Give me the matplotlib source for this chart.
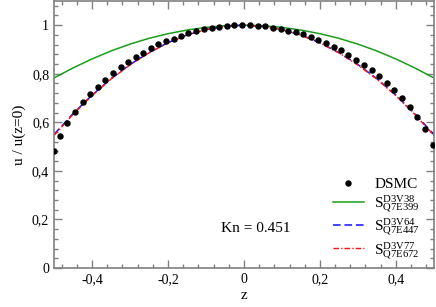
import matplotlib
matplotlib.use("Agg")
import matplotlib.pyplot as plt
from matplotlib.ticker import MultipleLocator, FuncFormatter

plt.rcParams['font.family'] = ['Liberation Serif', 'DejaVu Serif']
plt.rcParams['mathtext.fontset'] = 'custom'
plt.rcParams['mathtext.rm'] = 'Liberation Serif'
plt.rcParams['mathtext.it'] = 'Liberation Serif:italic'

# DSMC points
z_dsmc = [-0.5, -0.484, -0.466, -0.446, -0.425, -0.405, -0.385, -0.365, -0.346,
          -0.325, -0.305, -0.285, -0.265, -0.246, -0.226, -0.205, -0.185, -0.166,
          -0.146, -0.126, -0.105, -0.085, -0.065, -0.045, -0.026, -0.006,
          0.016, 0.036, 0.056, 0.076, 0.097, 0.116, 0.136, 0.156, 0.176, 0.196,
          0.216, 0.236, 0.255, 0.275, 0.296, 0.316, 0.336, 0.355, 0.376, 0.395,
          0.416, 0.436, 0.455, 0.476, 0.497]
u_dsmc = [0.481, 0.542, 0.598, 0.642, 0.682, 0.717, 0.746, 0.776, 0.802,
          0.826, 0.848, 0.868, 0.886, 0.905, 0.921, 0.934, 0.945, 0.956,
          0.967, 0.975, 0.984, 0.988, 0.993, 0.996, 0.999, 1.0,
          0.999, 0.998, 0.995, 0.989, 0.984, 0.978, 0.971, 0.963, 0.952, 0.940,
          0.926, 0.912, 0.896, 0.878, 0.857, 0.838, 0.815, 0.791, 0.763, 0.733,
          0.700, 0.663, 0.620, 0.571, 0.506]

# model curves
z_line = [-0.5, -0.45, -0.4, -0.35, -0.3, -0.25, -0.2, -0.15, -0.1, -0.05, 0.0,
          0.05, 0.1, 0.15, 0.2, 0.25, 0.3, 0.35, 0.4, 0.45, 0.5]
u_v38 = [0.783, 0.824, 0.861, 0.894, 0.922, 0.946, 0.965, 0.980, 0.991, 0.998, 1.0,
         0.998, 0.991, 0.980, 0.965, 0.946, 0.922, 0.894, 0.861, 0.824, 0.783]
u_v64 = [0.550, 0.636, 0.712, 0.780, 0.838, 0.887, 0.928, 0.960, 0.982, 0.995, 1.0,
         0.995, 0.982, 0.960, 0.928, 0.887, 0.838, 0.780, 0.712, 0.636, 0.550]
u_v77 = [0.546, 0.633, 0.710, 0.778, 0.836, 0.886, 0.927, 0.959, 0.982, 0.995, 1.0,
         0.995, 0.982, 0.959, 0.927, 0.886, 0.836, 0.778, 0.710, 0.633, 0.546]

fig = plt.figure(figsize=(4.36, 3.07), dpi=100)
ax = fig.add_axes([0.124, 0.127, 0.871, 0.870])

ax.plot(z_dsmc, u_dsmc, 'o', color='black', markersize=3.6, label='DSMC', zorder=4)
ax.plot(z_line, u_v38, '-', color='#1a9e1a', lw=1.1,
        label=r'$\mathrm{S}^{\mathrm{D3V38}}_{\mathrm{Q7E399}}$')
ax.plot(z_line, u_v64, '--', color='#1010ff', lw=1.1, dashes=(5, 2.5),
        label=r'$\mathrm{S}^{\mathrm{D3V64}}_{\mathrm{Q7E447}}$')
ax.plot(z_line, u_v77, '-.', color='#ff1010', lw=1.0, dashes=(4, 1.5, 1, 1.5),
        label=r'$\mathrm{S}^{\mathrm{D3V77}}_{\mathrm{Q7E672}}$')

ax.set_xlim(-0.5, 0.5)
ax.set_ylim(0, 1.1)
ax.xaxis.set_major_locator(MultipleLocator(0.2))
ax.xaxis.set_minor_locator(MultipleLocator(0.04))
ax.yaxis.set_major_locator(MultipleLocator(0.2))
ax.yaxis.set_minor_locator(MultipleLocator(0.04))

fmt = FuncFormatter(lambda v, p: ('%g' % round(v, 3)).replace('.', ','))
ax.xaxis.set_major_formatter(fmt)
ax.yaxis.set_major_formatter(fmt)

ax.tick_params(which='both', direction='in', top=True, right=True, color='#808080',
               labelsize=10, width=1)
ax.tick_params(which='major', length=5.5)
ax.tick_params(which='minor', length=3)
for s in ax.spines.values():
    s.set_color('#808080')
    s.set_linewidth(1.2)

ax.set_xlabel('z', fontsize=11, labelpad=2)
ax.set_ylabel('u / u(z=0)', fontsize=11, labelpad=4)

ax.text(0.032, 0.148, 'Kn = 0.451', fontsize=11, transform=ax.transData, ha='center')

ax.legend(loc='lower right', frameon=False, fontsize=11, handlelength=2.0,
          handletextpad=0.7, labelspacing=0.15, borderaxespad=0.0,
          bbox_to_anchor=(0.98, 0.005))

fig.savefig('out.png', dpi=100)
